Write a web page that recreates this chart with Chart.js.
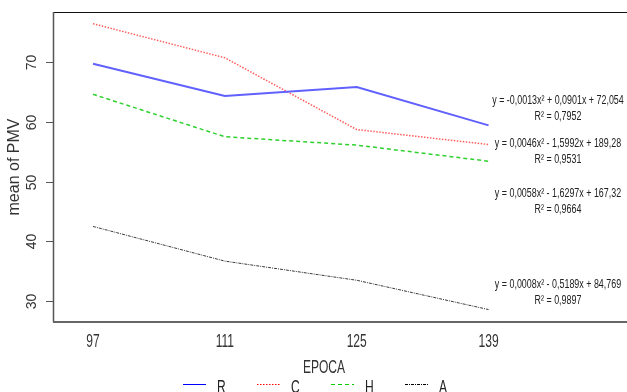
<!DOCTYPE html>
<html>
<head>
<meta charset="utf-8">
<style>
  html, body { margin: 0; padding: 0; background: #fff; }
  #wrap { width: 627px; height: 392px; position: relative; }
</style>
<script src="https://cdn.jsdelivr.net/npm/chart.js@4/dist/chart.umd.min.js"></script>
</head>
<body>
<div id="wrap"><canvas id="chart-pmv"></canvas></div>
<script>
// Valeurs (moyenne de PMV par époque).
const EPOCAS   = [97, 111, 125, 139];
const serieR   = [69.7, 64.3, 65.8, 59.4];
const serieC   = [76.4, 70.7, 58.7, 56.2];
const serieH   = [64.6, 57.5, 56.1, 53.4];
const serieA   = [42.5, 36.7, 33.5, 28.6];
const Y_TICKS  = [30, 40, 50, 60, 70];
const NOMS     = ['R', 'C', 'H', 'A'];
const EQUATIONS = [
    ['y = -0,0013x² + 0,0901x + 72,054', 'R² = 0,7952'],
    ['y = 0,0046x² - 1,5992x + 189,28', 'R² = 0,9531'],
    ['y = 0,0058x² - 1,6297x + 167,32', 'R² = 0,9664'],
    ['y = 0,0008x² - 0,5189x + 84,769', 'R² = 0,9897']
];
// valeur y (sur l'axe) où chaque équation est posée
const EQ_Y = [63.6, 56.4, 48.0, 32.7];

(function () {
    'use strict';

    const sans = '"Liberation Sans", Arial, sans-serif';

    // couleurs atténuées pour le tracé, pures pour la légende (comme dans R)
    const styles = [
        { line: '#6060ff', key: '#0000ff', width: 2,   dash: [] },
        { line: '#ff5c5c', key: '#ff0000', width: 1.5, dash: [1.5, 1.5] },
        { line: '#2ed12e', key: '#00cc00', width: 1.5, dash: [4, 3] },
        { line: '#3a3a3a', key: '#000000', width: 1,   dash: [3, 1, 1, 1] }
    ];
    const series = [serieR, serieC, serieH, serieA];

    // texte étroit et étiré, à la manière de la figure source
    function stretched(ctx, text, x, y, sx, sy) {
        ctx.save();
        ctx.translate(x, y);
        ctx.scale(sx, sy);
        ctx.fillText(text, 0, 0);
        ctx.restore();
    }

    const axesR = {
        id: 'axesR',
        afterDraw: function (chart) {
            const ctx = chart.ctx;
            const a = chart.chartArea;
            const xs = chart.scales.x;
            const ys = chart.scales.y;

            ctx.save();
            // cadre
            ctx.strokeStyle = '#111';
            ctx.lineWidth = 1;
            ctx.beginPath();
            ctx.moveTo(a.left, a.top + 0.5);
            ctx.lineTo(a.right, a.top + 0.5);
            ctx.stroke();
            ctx.strokeStyle = '#555';
            ctx.lineWidth = 1.5;
            ctx.beginPath();
            ctx.moveTo(a.left + 0.5, a.top);
            ctx.lineTo(a.left + 0.5, a.bottom);
            ctx.stroke();
            ctx.strokeStyle = '#666';
            ctx.lineWidth = 2;
            ctx.beginPath();
            ctx.moveTo(a.left, a.bottom);
            ctx.lineTo(a.right, a.bottom);
            ctx.stroke();

            // graduations y, étiquettes tournées
            ctx.fillStyle = '#333';
            ctx.strokeStyle = '#555';
            ctx.lineWidth = 1;
            ctx.font = '14px ' + sans;
            ctx.textAlign = 'center';
            ctx.textBaseline = 'middle';
            Y_TICKS.forEach(function (v) {
                const py = Math.round(ys.getPixelForValue(v)) + 0.5;
                ctx.beginPath();
                ctx.moveTo(a.left - 7, py);
                ctx.lineTo(a.left, py);
                ctx.stroke();
                ctx.save();
                ctx.translate(a.left - 21, py);
                ctx.rotate(-Math.PI / 2);
                ctx.fillText(String(v), 0, 0);
                ctx.restore();
            });

            ctx.save();
            ctx.font = '16px ' + sans;
            ctx.translate(15, (a.top + a.bottom) / 2);
            ctx.rotate(-Math.PI / 2);
            ctx.fillText('mean of PMV', 0, 0);
            ctx.restore();

            // étiquettes x
            ctx.font = '14px ' + sans;
            ctx.textBaseline = 'alphabetic';
            EPOCAS.forEach(function (e) {
                stretched(ctx, String(e), xs.getPixelForValue(e), 347, 0.86, 1.25);
            });
            stretched(ctx, 'EPOCA', 324, 373, 0.86, 1.25);

            // équations des tendances
            ctx.fillStyle = '#222';
            ctx.font = '11px ' + sans;
            ctx.textBaseline = 'middle';
            EQUATIONS.forEach(function (eq, i) {
                const py = ys.getPixelForValue(EQ_Y[i]);
                stretched(ctx, eq[0], 558, py, 0.81, 1.1);
                stretched(ctx, eq[1], 558, py + 16, 0.81, 1.1);
            });

            // légende
            ctx.font = '14px ' + sans;
            ctx.textAlign = 'left';
            ctx.textBaseline = 'alphabetic';
            ctx.fillStyle = '#222';
            NOMS.forEach(function (nom, i) {
                const x0 = 183 + i * 74;
                const s = styles[i];
                ctx.strokeStyle = s.key;
                ctx.lineWidth = 1;
                ctx.setLineDash(s.dash);
                ctx.beginPath();
                ctx.moveTo(x0, 384.5);
                ctx.lineTo(x0 + 23, 384.5);
                ctx.stroke();
                ctx.setLineDash([]);
                stretched(ctx, nom, x0 + 34, 393, 0.86, 1.25);
            });
            ctx.restore();
        }
    };

    new Chart(document.getElementById('chart-pmv'), {
        type: 'line',
        data: {
            datasets: series.map(function (vals, i) {
                return {
                    label: NOMS[i],
                    data: EPOCAS.map(function (e, k) { return { x: e, y: vals[k] }; }),
                    borderColor: styles[i].line,
                    borderWidth: styles[i].width,
                    borderDash: styles[i].dash,
                    pointRadius: 0,
                    tension: 0,
                    fill: false
                };
            })
        },
        options: {
            responsive: true,
            maintainAspectRatio: false,
            animation: false,
            layout: { padding: { left: 53, top: 12, right: 0, bottom: 70 } },
            plugins: { legend: { display: false }, tooltip: { enabled: false } },
            scales: {
                x: { type: 'linear', min: 92.75, max: 153.7, display: false },
                y: { min: 26.52, max: 78.36, display: false }
            }
        },
        plugins: [axesR]
    });
})();
</script>
</body>
</html>
